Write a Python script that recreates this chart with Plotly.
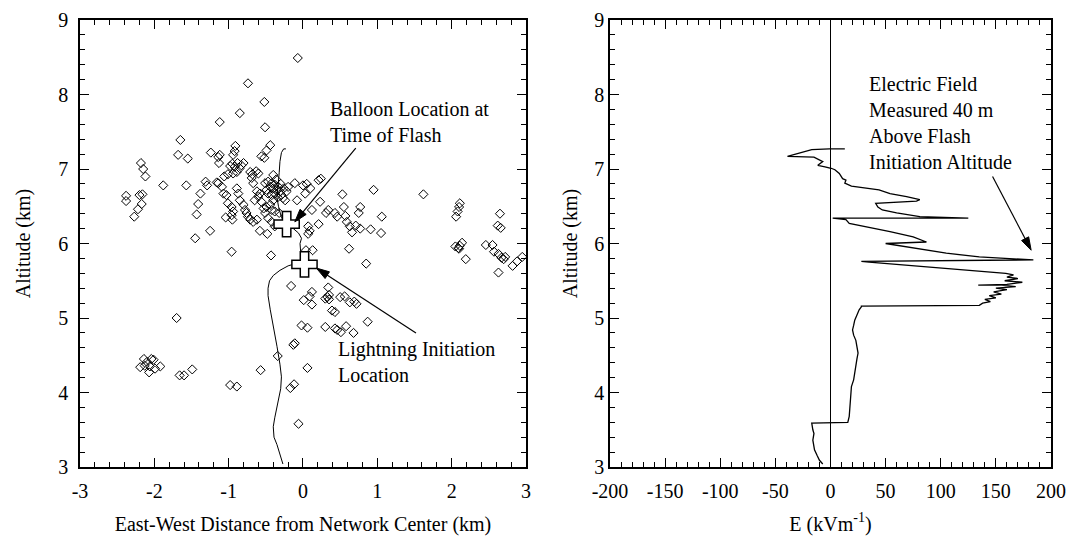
import math
import plotly.graph_objects as go
from plotly.subplots import make_subplots

# ---------------- data ----------------
# VHF source locations (east-west km, altitude km)
src_x = [
    -0.07, -0.74, -0.52, -0.85, -1.12, -0.51, -1.65, -1.68, -1.55, -1.24, -1.14, -1.12, -1.13,
    -0.91, -0.92, -0.94, -0.44, -0.49, -0.56, -0.52,
    -2.18, -2.15, -2.12, -2.38, -2.38, -2.20, -2.16, -2.17, -2.22, -2.27,
    -1.88, -1.57, -1.38, -1.41, -1.43, -1.25, -1.45, -0.96, -0.43, -0.58, -0.48,
    -1.31, -1.29, -1.16, -1.14, -1.06, -1.01, -0.98, -0.95, -0.92, -0.88, -0.85, -0.89, -0.94,
    -0.83, -0.80, -1.09, -1.07, -1.03, -1.01, -0.96, -0.94, -0.96, -0.95, -1.04, -0.89, -0.87,
    -0.85, -0.80, -0.78, -0.76, -0.74, -0.71, -0.68, -0.63, -0.60, -0.69, -0.67, -0.62, -0.58,
    -0.60, -0.65, -0.56, -0.71, -0.67, -0.62,
    -0.51, -0.47, -0.42, -0.38, -0.44, -0.40, -0.35, -0.49, -0.47, -0.42, -0.38, -0.33, -0.31,
    -0.29, -0.27, -0.24, -0.40, -0.44, -0.49, -0.53, -0.42, -0.38, -0.51, -0.47, -0.42, -0.38,
    -0.22, -0.20, -0.11, -0.40, -0.08, -0.32, -0.36, -0.30, -0.26, -0.34,
    0.00, 0.05, 0.10, 0.03, 0.21, 0.24, 0.23, 0.12, 0.53, 0.95, 1.62, 0.34, 0.31, 0.43, 0.46,
    0.55, 0.57, 0.59, 0.63, 0.66, 0.71, 0.77, 0.75, 0.77, 0.91, 1.06, 1.05, 0.62, 0.85, 0.21,
    0.07, 0.09, 0.07, 0.04, 0.13,
    2.06, 2.08, 2.10, 2.11, 2.05, 2.09, 2.11, 2.14, 2.10, 2.19, 2.65, 2.62, 2.66, 2.46, 2.55,
    2.57, 2.63, 2.67, 2.70, 2.63, 2.82, 2.88, 2.95, 2.72,
    -1.70, -2.14, -2.04, -2.01, -2.19, -2.13, -2.07, -1.99, -1.92, -2.06, -2.10, -1.66, -1.60,
    -1.49, -0.98, -0.89, -0.57, -0.16, -0.34, -0.11, -0.13, -0.17, -0.12, -0.06,
    0.01, 0.12, 0.09, 0.12, 0.34, 0.30, 0.33, 0.35, 0.35, 0.50, 0.56, 0.63, 0.69, 0.72, 0.39,
    0.43, 0.87, -0.02, 0.06, 0.30, 0.43, 0.46, 0.51, 0.58, 0.68, 0.06,
]
src_alt = [
    8.49, 8.15, 7.90, 7.75, 7.63, 7.56, 7.39, 7.19, 7.14, 7.22, 7.16, 7.19, 7.08,
    7.31, 7.24, 7.19, 7.32, 7.25, 7.17, 7.15,
    7.08, 7.00, 6.90, 6.64, 6.57, 6.65, 6.66, 6.53, 6.46, 6.36,
    6.78, 6.78, 6.67, 6.53, 6.39, 6.17, 6.07, 5.89, 5.84, 6.17, 6.13,
    6.83, 6.78, 6.82, 6.81, 6.90, 6.93, 7.04, 7.07, 7.03, 7.08, 7.01, 6.96, 6.94,
    7.05, 7.08, 6.76, 6.67, 6.65, 6.54, 6.49, 6.43, 6.38, 6.32, 6.35, 6.74, 6.67,
    6.58, 6.52, 6.45, 6.41, 6.36, 6.96, 6.93, 6.97, 6.94, 6.88, 6.81, 6.70, 6.67,
    6.63, 6.58, 6.56, 6.32, 6.29, 6.32,
    6.81, 6.83, 6.81, 6.79, 6.76, 6.74, 6.72, 6.72, 6.67, 6.65, 6.67, 6.76, 6.70,
    6.65, 6.61, 6.58, 6.58, 6.52, 6.49, 6.47, 6.45, 6.43, 6.41, 6.34, 6.29, 6.23,
    6.70, 6.76, 6.81, 6.92, 6.58, 6.41, 6.86, 6.80, 6.74, 6.62,
    6.78, 6.80, 6.74, 6.67, 6.85, 6.87, 6.56, 6.45, 6.66, 6.72, 6.66, 6.45, 6.41, 6.41, 6.36,
    6.49, 6.37, 6.29, 6.23, 6.15, 6.24, 6.20, 6.41, 6.49, 6.19, 6.36, 6.14, 5.93, 5.73, 6.26,
    6.23, 6.17, 6.13, 5.91, 5.91,
    6.36, 6.43, 6.49, 6.54, 5.96, 5.94, 5.97, 6.01, 5.93, 5.79, 6.40, 6.24, 6.21, 5.98, 5.98,
    5.89, 5.86, 5.81, 5.79, 5.61, 5.70, 5.76, 5.82, 5.82,
    5.00, 4.45, 4.45, 4.44, 4.34, 4.36, 4.27, 4.32, 4.35, 4.35, 4.41, 4.23, 4.23,
    4.31, 4.10, 4.08, 4.30, 5.43, 4.49, 4.66, 4.64, 4.06, 4.11, 3.58,
    5.24, 5.35, 5.29, 5.18, 5.41, 5.26, 5.28, 5.31, 5.25, 5.28, 5.29, 5.21, 5.22, 5.19, 5.10,
    5.08, 4.95, 4.90, 4.87, 4.88, 4.86, 4.84, 4.81, 4.89, 4.80, 4.33,
]

# balloon track (east-west km, altitude km)
track_x = [-0.27, -0.31, -0.35, -0.39, -0.40, -0.38, -0.33, -0.30, -0.29, -0.31, -0.35,
           -0.40, -0.42, -0.44, -0.47, -0.47, -0.45, -0.40, -0.31, -0.20, -0.10, 0.00,
           -0.03, -0.04, -0.02, -0.06, -0.13, -0.22, -0.29, -0.33, -0.35, -0.33, -0.32,
           -0.31, -0.29, -0.26, -0.23]
track_alt = [3.04, 3.18, 3.30, 3.40, 3.54, 3.66, 3.90, 4.05, 4.21, 4.38, 4.62,
             4.88, 5.00, 5.11, 5.30, 5.40, 5.50, 5.57, 5.64, 5.70, 5.73, 5.76,
             5.87, 6.00, 6.07, 6.14, 6.20, 6.26, 6.35, 6.50, 6.62, 6.80, 6.95,
             7.10, 7.22, 7.27, 7.27]

# marked locations
balloon_x, balloon_alt = [-0.22], [6.26]
init_x, init_alt = [0.02], [5.72]

# electric field profile (kV/m, altitude km)
efield = [-7, -10, -12, -14.5, -16, -15, -16, -17, 15.7, 17, 17.5, 18, 18.5, 19, 21, 22,
          23, 24, 25, 24, 23, 21, 20, 21, 22, 24, 26, 28, 28, 135,
          138, 145, 140, 150, 144, 155, 148, 160, 150, 168, 155, 134, 160, 174, 158, 170,
          160, 166, 159, 35, 28, 184, 160, 135, 105, 75, 50, 87, 75, 54, 32, 17, 14, 2, 125,
          105, 81, 60, 47, 43, 41, 78, 81, 69, 54, 44, 32, 19, 13, 14, 11, 8, 4, 0.6,
          -5, -11.5, -7, -10, -15, -39, -17, -1, 13]
efield_alt = [3.04, 3.09, 3.15, 3.23, 3.36, 3.45, 3.50, 3.59, 3.60, 3.68, 3.78, 3.85,
              3.95, 4.08, 4.17, 4.28, 4.39, 4.45, 4.53, 4.62, 4.70, 4.77, 4.84, 4.90,
              4.97, 5.04, 5.11, 5.15, 5.16, 5.17,
              5.20, 5.22, 5.25, 5.27, 5.30, 5.32, 5.35, 5.38, 5.40, 5.42, 5.44, 5.44,
              5.45, 5.48, 5.50, 5.53, 5.55, 5.58, 5.60, 5.75, 5.76, 5.78, 5.80, 5.82,
              5.87, 5.94, 6.00, 6.02, 6.09, 6.16, 6.23, 6.27, 6.32, 6.34, 6.34, 6.345,
              6.36, 6.41, 6.45, 6.49, 6.54, 6.57, 6.59, 6.63, 6.67, 6.72, 6.74, 6.77,
              6.81, 6.85, 6.87, 6.94, 6.99, 7.01, 7.03, 7.05, 7.10, 7.12, 7.16, 7.17,
              7.26, 7.27, 7.27]

alt_ticks = [3, 4, 5, 6, 7, 8, 9]
ew_ticks = [-3, -2, -1, 0, 1, 2, 3]
e_ticks = [-200, -150, -100, -50, 0, 50, 100, 150, 200]

# annotation arrows: (tail x, tail y, tip x, tip y) in each panel's data units
balloon_arrow = (0.71, 7.28, -0.11, 6.29)
init_arrow = (1.52, 4.80, 0.18, 5.67)
field_arrow = (147, 6.90, 182, 5.91)

FONT = "Liberation Serif"
W, H = 1069, 539
M = dict(l=80, r=18, t=20, b=72)
X1_DOM = [0.0, 0.4593]
X2_DOM = [0.5458, 1.0]
X1_RANGE, X2_RANGE, Y_RANGE = [-3, 3], [-200, 200], [3, 9]

# ---------------- figure ----------------
fig = make_subplots(rows=1, cols=2)

fig.add_trace(go.Scatter(x=track_x, y=track_alt, mode="lines",
                         line=dict(color="black", width=1), showlegend=False), 1, 1)
fig.add_trace(go.Scatter(x=src_x, y=src_alt, mode="markers",
                         marker=dict(symbol="diamond-open", size=7, color="black",
                                     line=dict(width=1, color="black")),
                         showlegend=False), 1, 1)
fig.add_trace(go.Scatter(x=balloon_x + init_x, y=balloon_alt + init_alt, mode="markers",
                         marker=dict(symbol="cross", size=21, color="white",
                                     line=dict(width=1.5, color="black")),
                         showlegend=False), 1, 1)
fig.add_trace(go.Scatter(x=efield, y=efield_alt, mode="lines",
                         line=dict(color="black", width=1.3), showlegend=False), 1, 2)

axis_common = dict(
    showline=True, linecolor="black", linewidth=1.5, mirror="ticks",
    ticks="inside", ticklen=9, tickwidth=1, tickcolor="black",
    showgrid=False, zeroline=False, automargin=False,
    tickfont=dict(family=FONT, size=20, color="black"),
    title_font=dict(family=FONT, size=20, color="black"),
)

fig.update_xaxes(**axis_common, range=X1_RANGE, domain=X1_DOM,
                 tickmode="array", tickvals=ew_ticks, ticktext=[str(v) for v in ew_ticks],
                 minor=dict(ticks="inside", ticklen=5, tickcolor="black",
                            tickmode="linear", tick0=0, dtick=0.2),
                 title_text="East-West Distance from Network Center (km)",
                 title_standoff=16, ticklabelstandoff=5,
                 row=1, col=1)
fig.update_xaxes(**axis_common, range=X2_RANGE, domain=X2_DOM,
                 tickmode="array", tickvals=e_ticks, ticktext=[str(v) for v in e_ticks],
                 minor=dict(ticks="inside", ticklen=5, tickcolor="black",
                            tickmode="linear", tick0=0, dtick=10),
                 title_text="E (kVm<sup>-1</sup>)",
                 title_standoff=16, ticklabelstandoff=5,
                 row=1, col=2)
fig.update_xaxes(zeroline=True, zerolinecolor="black", zerolinewidth=1, row=1, col=2)
fig.update_yaxes(**axis_common, range=Y_RANGE,
                 tickmode="array", tickvals=alt_ticks, ticktext=[str(v) for v in alt_ticks],
                 minor=dict(ticks="inside", ticklen=5, tickcolor="black",
                            tickmode="linear", tick0=0, dtick=0.2),
                 title_text="Altitude (km)", title_standoff=22, ticklabelstandoff=6,
                 row=1, col=1)
fig.update_yaxes(**axis_common, range=Y_RANGE,
                 tickmode="array", tickvals=alt_ticks, ticktext=[str(v) for v in alt_ticks],
                 minor=dict(ticks="inside", ticklen=5, tickcolor="black",
                            tickmode="linear", tick0=0, dtick=0.2),
                 title_text="Altitude (km)", title_standoff=11, ticklabelstandoff=0,
                 row=1, col=2)

# ---- arrows drawn as shapes (shaft + filled head) ----
plot_w = W - M["l"] - M["r"]
plot_h = H - M["t"] - M["b"]


def arrow_shapes(arr, xref, yref, dom, xr, head_len=13, head_half=4):
    x0, y0, x1, y1 = arr
    sx = plot_w * (dom[1] - dom[0]) / (xr[1] - xr[0])   # px per x unit
    sy = plot_h / (Y_RANGE[1] - Y_RANGE[0])             # px per y unit
    dxp, dyp = (x1 - x0) * sx, (y1 - y0) * sy
    L = math.hypot(dxp, dyp)
    ux, uy = dxp / L, dyp / L
    bx, by = -ux * head_len, -uy * head_len             # from tip back to head base
    px_, py_ = -uy * head_half, ux * head_half          # perpendicular
    b1 = (x1 + (bx + px_) / sx, y1 + (by + py_) / sy)
    b2 = (x1 + (bx - px_) / sx, y1 + (by - py_) / sy)
    shaft_end = (x1 + bx * 0.8 / sx, y1 + by * 0.8 / sy)
    return [
        dict(type="line", xref=xref, yref=yref, x0=x0, y0=y0,
             x1=shaft_end[0], y1=shaft_end[1], line=dict(color="black", width=1.2)),
        dict(type="path", xref=xref, yref=yref,
             path=f"M {x1},{y1} L {b1[0]},{b1[1]} L {b2[0]},{b2[1]} Z",
             fillcolor="black", line=dict(color="black", width=1)),
    ]


shapes = []
shapes += arrow_shapes(balloon_arrow, "x", "y", X1_DOM, X1_RANGE)
shapes += arrow_shapes(init_arrow, "x", "y", X1_DOM, X1_RANGE)
shapes += arrow_shapes(field_arrow, "x2", "y2", X2_DOM, X2_RANGE)

ann_font = dict(family=FONT, size=20, color="black")
annotations = [
    dict(xref="x", yref="y", x=0.34, y=7.635, text="Balloon Location at<br>Time of Flash",
         showarrow=False, xanchor="left", yanchor="middle", align="left", font=ann_font),
    dict(xref="x", yref="y", x=0.44, y=4.41, text="Lightning Initiation<br>Location",
         showarrow=False, xanchor="left", yanchor="middle", align="left", font=ann_font),
    dict(xref="x2", yref="y2", x=33, y=7.62,
         text="Electric Field<br>Measured 40 m<br>Above Flash<br>Initiation Altitude",
         showarrow=False, xanchor="left", yanchor="middle", align="left", font=ann_font),
]
fig.update_layout(
    width=W, height=H,
    margin=M,
    plot_bgcolor="white", paper_bgcolor="white",
    font=dict(family=FONT, size=20, color="black"),
    annotations=annotations,
    shapes=shapes,
)

fig.write_html("out.html")
